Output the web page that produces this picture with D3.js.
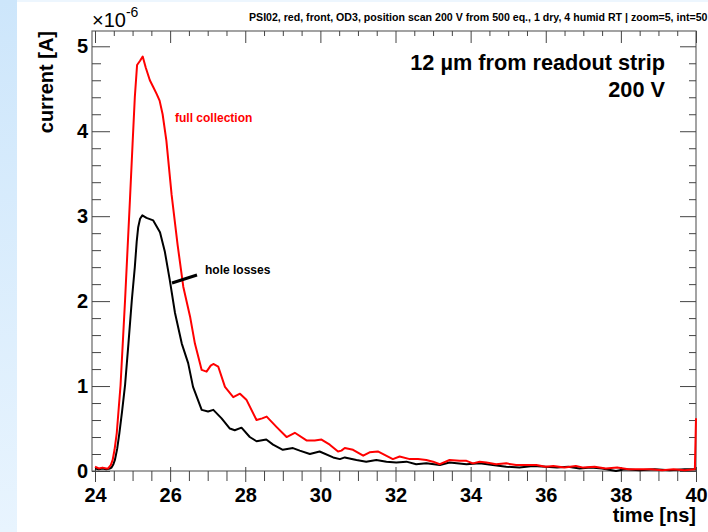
<!DOCTYPE html>
<html>
<head>
<meta charset="utf-8">
<script src="https://cdn.jsdelivr.net/npm/d3@7"></script>
<style>
	body { margin: 0; background: #fff; }
	svg { display: block; font-family: "Liberation Sans", Arial, sans-serif; }
</style>
</head>
<body>
<svg id="chart" width="708" height="532"></svg>
<script>
// full collection (red), time in ns, current in 1e-6 A
const fullTime = [24.0, 24.1, 24.2, 24.3, 24.35, 24.42, 24.47, 24.52, 24.58, 24.68, 24.8, 24.93, 25.0, 25.06, 25.12, 25.2, 25.27, 25.35, 25.46, 25.55, 25.64, 25.72, 25.8, 25.9, 26.04, 26.2, 26.35, 26.53, 26.66, 26.84, 26.97, 27.08, 27.15, 27.28, 27.46, 27.68, 27.86, 28.03, 28.3, 28.45, 28.57, 28.83, 29.1, 29.32, 29.63, 29.85, 30.03, 30.25, 30.47, 30.56, 30.65, 30.87, 31.14, 31.31, 31.53, 31.71, 31.93, 32.11, 32.38, 32.6, 32.82, 33.0, 33.18, 33.44, 33.71, 33.89, 34.06, 34.24, 34.42, 34.68, 34.95, 35.21, 35.48, 35.75, 36.0, 36.2, 36.5, 36.8, 37.0, 37.3, 37.6, 37.9, 38.2, 38.5, 38.8, 39.1, 39.4, 39.7, 39.97, 40.0];
const fullCurrent = [0.05, 0.03, 0.04, 0.03, 0.03, 0.07, 0.13, 0.25, 0.45, 1.01, 2.01, 3.19, 3.85, 4.4, 4.78, 4.83, 4.88, 4.75, 4.6, 4.52, 4.44, 4.36, 4.2, 3.89, 3.25, 2.66, 2.17, 1.82, 1.5, 1.19, 1.17, 1.24, 1.26, 1.23, 0.99, 0.87, 0.91, 0.84, 0.6, 0.62, 0.64, 0.52, 0.4, 0.45, 0.36, 0.36, 0.37, 0.31, 0.23, 0.24, 0.27, 0.25, 0.18, 0.22, 0.23, 0.19, 0.14, 0.17, 0.14, 0.14, 0.13, 0.11, 0.08, 0.13, 0.12, 0.12, 0.09, 0.11, 0.1, 0.08, 0.09, 0.07, 0.07, 0.07, 0.05, 0.06, 0.04, 0.06, 0.04, 0.05, 0.03, 0.04, 0.02, 0.02, 0.02, 0.01, 0.02, 0.01, 0.02, 0.62];

// hole losses (black)
const holeTime = [24.0, 24.1, 24.2, 24.3, 24.4, 24.44, 24.49, 24.53, 24.59, 24.65, 24.72, 24.8, 24.89, 24.98, 25.06, 25.11, 25.15, 25.2, 25.26, 25.37, 25.55, 25.73, 25.86, 25.99, 26.13, 26.31, 26.48, 26.61, 26.84, 27.01, 27.15, 27.37, 27.59, 27.72, 27.9, 28.12, 28.3, 28.56, 28.74, 29.0, 29.27, 29.45, 29.72, 29.98, 30.34, 30.52, 30.65, 30.96, 31.22, 31.49, 31.76, 32.02, 32.29, 32.55, 32.82, 33.18, 33.44, 33.89, 34.24, 34.59, 34.95, 35.3, 35.66, 36.0, 36.3, 36.6, 36.9, 37.2, 37.5, 37.87, 38.1, 38.5, 38.9, 39.3, 39.7, 40.0];
const holeCurrent = [0.03, 0.02, 0.03, 0.02, 0.03, 0.04, 0.08, 0.13, 0.26, 0.45, 0.7, 1.01, 1.5, 2.01, 2.4, 2.7, 2.87, 2.97, 3.01, 2.98, 2.95, 2.81, 2.58, 2.25, 1.86, 1.5, 1.27, 0.99, 0.72, 0.7, 0.72, 0.62, 0.5, 0.48, 0.51, 0.4, 0.35, 0.37, 0.31, 0.25, 0.27, 0.24, 0.2, 0.23, 0.16, 0.14, 0.16, 0.13, 0.11, 0.13, 0.11, 0.1, 0.11, 0.08, 0.09, 0.07, 0.1, 0.08, 0.09, 0.07, 0.05, 0.04, 0.06, 0.05, 0.04, 0.05, 0.03, 0.04, 0.03, 0.0, 0.02, 0.01, 0.02, 0.01, 0.02, 0.02];

const xTickValues = [24, 26, 28, 30, 32, 34, 36, 38, 40];
const yTickValues = [0, 1, 2, 3, 4, 5];

const titleText = "PSI02, red, front, OD3, position scan 200 V from 500 eq., 1 dry, 4 humid RT | zoom=5, int=50";

const svg = d3.select("#chart");

// page background with the pale blue strip on the left
const grad = svg.append("defs").append("linearGradient")
	.attr("id", "strip").attr("x1", 0).attr("y1", 0).attr("x2", 0).attr("y2", 1);
grad.append("stop").attr("offset", "0%").attr("stop-color", "#cde6fb");
grad.append("stop").attr("offset", "100%").attr("stop-color", "#e8f4fe");

svg.append("rect").attr("width", 708).attr("height", 532).attr("fill", "#fff");
svg.append("rect").attr("x", 17).attr("width", 691).attr("height", 2).attr("fill", "#edf6fe");
svg.append("rect").attr("width", 17).attr("height", 532).attr("fill", "url(#strip)");

const x = d3.scaleLinear().domain([23.92, 40]).range([92, 696]);
const y = d3.scaleLinear().domain([0, 5.18]).range([471, 31]);

const xMinor = d3.range(48, 81).map(d => d / 2).filter(d => xTickValues.indexOf(d) < 0);
const yMinor = d3.range(0, 26).map(d => d / 5).filter(d => d <= 5.18 && d % 1 !== 0);

// frame
svg.append("rect")
	.attr("x", 92).attr("y", 31).attr("width", 604).attr("height", 440)
	.attr("fill", "none").attr("stroke", "#666").attr("stroke-width", 1.2);

const styleAxis = g => {
	g.select(".domain").remove();
	g.selectAll("line").attr("stroke", "#444").attr("stroke-width", 1);
	g.selectAll("text")
		.attr("fill", "#000")
		.style("font-family", "'Liberation Sans', Arial, sans-serif")
		.style("font-weight", "bold")
		.style("font-size", "20px");
};

// bottom axis
svg.append("g").attr("transform", "translate(0,471)")
	.call(d3.axisBottom(x).tickValues(xTickValues).tickSize(11).tickPadding(6).tickFormat(d3.format("d")))
	.call(styleAxis)
	.call(g => g.selectAll("line").attr("y1", -4));
svg.append("g").attr("transform", "translate(0,471)")
	.call(d3.axisBottom(x).tickValues(xMinor).tickSize(10).tickFormat(""))
	.call(styleAxis);

// top axis
svg.append("g").attr("transform", "translate(0,31)")
	.call(d3.axisTop(x).tickValues(xTickValues).tickSize(-12).tickFormat(""))
	.call(styleAxis);
svg.append("g").attr("transform", "translate(0,31)")
	.call(d3.axisTop(x).tickValues(xMinor).tickSize(-5).tickFormat(""))
	.call(styleAxis);

// left axis
svg.append("g").attr("transform", "translate(92,0)")
	.call(d3.axisLeft(y).tickValues(yTickValues).tickSize(-18).tickPadding(4).tickFormat(d3.format("d")))
	.call(styleAxis);
svg.append("g").attr("transform", "translate(92,0)")
	.call(d3.axisLeft(y).tickValues(yMinor).tickSize(-9).tickFormat(""))
	.call(styleAxis);

// right axis
svg.append("g").attr("transform", "translate(696,0)")
	.call(d3.axisRight(y).tickValues(yTickValues).tickSize(-16).tickFormat(""))
	.call(styleAxis);
svg.append("g").attr("transform", "translate(696,0)")
	.call(d3.axisRight(y).tickValues(yMinor).tickSize(-7).tickFormat(""))
	.call(styleAxis);

// curves
const line = d3.line()
	.x(d => x(d[0]))
	.y(d => y(d[1]));

svg.append("path")
	.datum(holeTime.map((t, i) => [t, holeCurrent[i]]))
	.attr("d", line)
	.attr("fill", "none").attr("stroke", "#000").attr("stroke-width", 2)
	.attr("stroke-linejoin", "round");

svg.append("path")
	.datum(fullTime.map((t, i) => [t, fullCurrent[i]]))
	.attr("d", line)
	.attr("fill", "none").attr("stroke", "#ff0000").attr("stroke-width", 2)
	.attr("stroke-linejoin", "round");

// labels
svg.append("text")
	.attr("x", 175).attr("y", 122)
	.attr("fill", "#ff0000").attr("font-weight", "bold").attr("font-size", 12)
	.text("full collection");

svg.append("line")
	.attr("x1", 172).attr("y1", 283).attr("x2", 197).attr("y2", 275)
	.attr("stroke", "#000").attr("stroke-width", 3);

svg.append("text")
	.attr("x", 205).attr("y", 274)
	.attr("fill", "#000").attr("font-weight", "bold").attr("font-size", 12)
	.text("hole losses");

svg.append("text")
	.attr("x", 665).attr("y", 70)
	.attr("text-anchor", "end").attr("font-weight", "bold").attr("font-size", 21.7)
	.text("12 \u00b5m from readout strip");

svg.append("text")
	.attr("x", 665).attr("y", 97)
	.attr("text-anchor", "end").attr("font-weight", "bold").attr("font-size", 21.7)
	.text("200 V");

svg.append("text")
	.attr("x", 249).attr("y", 21)
	.attr("font-weight", "bold").attr("font-size", 10.6)
	.text(titleText);

// axis titles
svg.append("text")
	.attr("transform", "translate(53,31) rotate(-90)")
	.attr("text-anchor", "end").attr("font-weight", "bold").attr("font-size", 20)
	.text("current [A]");

svg.append("text")
	.attr("x", 696).attr("y", 522)
	.attr("text-anchor", "end").attr("font-weight", "bold").attr("font-size", 20)
	.text("time [ns]");

// exponent
const expo = svg.append("text").attr("x", 92).attr("y", 27).attr("font-size", 20);
expo.append("tspan").text("\u00d710");
expo.append("tspan").attr("dy", -10).attr("font-size", 14).text("-6");
</script>
</body>
</html>
